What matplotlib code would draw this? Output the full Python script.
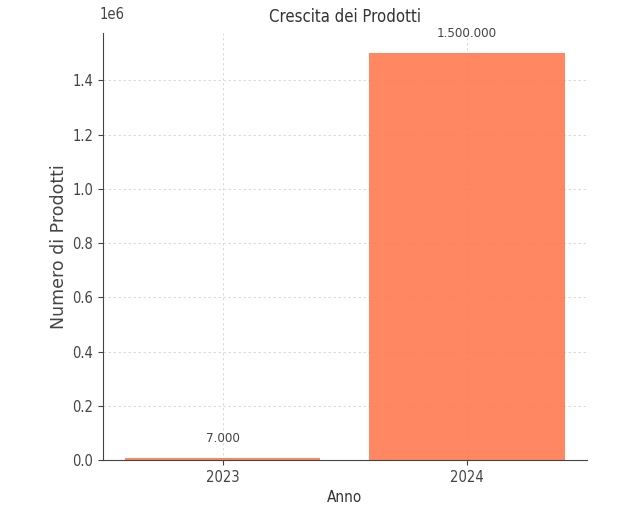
import matplotlib
matplotlib.use("Agg")
import matplotlib.pyplot as plt

anni = ["2023", "2024"]
prodotti = [7000, 1500000]
etichette = ["7.000", "1.500.000"]

plt.rcParams['font.family'] = ['DejaVu Sans']
plt.rcParams['font.stretch'] = 'condensed'
fig = plt.figure(figsize=(6.35, 5.14), dpi=100)
ax = fig.add_axes([0.162, 0.105, 0.762, 0.831])

bars = ax.bar(anni, prodotti, color='#FF7A50', alpha=0.9, width=0.8)
ax.set_axisbelow(True)
ax.grid(True, linestyle=(0, (3, 3)), color='#d5d5d5', linewidth=0.6)

for b, lab in zip(bars, etichette):
    ax.text(b.get_x() + b.get_width() / 2, b.get_height() + 50000, lab,
            ha='center', va='bottom', fontsize=9.5, color='#444444')

ax.spines['top'].set_visible(False)
ax.spines['right'].set_visible(False)
ax.spines['left'].set_color('#444444')
ax.spines['bottom'].set_color('#444444')

ax.set_title("Crescita dei Prodotti", fontsize=12, color='#333333', pad=8)
ax.set_xlabel("Anno", fontsize=11, color='#333333')
ax.set_ylabel("Numero di Prodotti", fontsize=12.5, color='#444444',
              fontstretch='normal', labelpad=3)
ax.tick_params(labelsize=10.5, colors='#444444')

# scala 1e6 messa a mano un po' piu in alto
ax.yaxis.get_offset_text().set_visible(False)
fig.text(0.157, 0.971, "1e6", fontsize=10.5, color='#444444', va='center')

plt.savefig("out.png", dpi=100)
